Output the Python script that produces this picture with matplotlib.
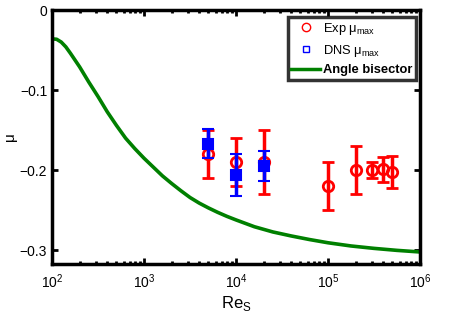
import matplotlib
matplotlib.use("Agg")
import matplotlib.pyplot as plt
from matplotlib.lines import Line2D
import numpy as np

plt.rcParams['font.family'] = ['Liberation Sans', 'DejaVu Sans']

# ── Data ──────────────────────────────────────────────────────────────────────
exp_re = [5e3, 1e4, 2e4, 1e5, 2e5, 3e5, 4e5, 5e5]
exp_mu = [-0.18, -0.19, -0.19, -0.22, -0.20, -0.20, -0.199, -0.202]
exp_err = [0.03, 0.03, 0.04, 0.03, 0.03, 0.01, 0.016, 0.02]

dns_re = [5e3, 1e4, 2e4]
dns_mu = [-0.167, -0.206, -0.195]
dns_err = [0.018, 0.026, 0.019]

bis_logre = [2.0, 2.05, 2.10, 2.15, 2.20, 2.30, 2.40, 2.50, 2.60, 2.70, 2.80,
             2.90, 3.00, 3.10, 3.20, 3.30, 3.40, 3.50, 3.60, 3.70, 3.80, 3.90,
             4.00, 4.20, 4.40, 4.60, 4.80, 5.00, 5.25, 5.50, 5.75, 6.00]
bis_mu = [-0.036, -0.0365, -0.040, -0.046, -0.054, -0.071, -0.090, -0.108,
          -0.127, -0.144, -0.160, -0.173, -0.185, -0.196, -0.207, -0.2165,
          -0.2255, -0.234, -0.241, -0.247, -0.2525, -0.2575, -0.262, -0.2705,
          -0.277, -0.282, -0.2865, -0.2905, -0.2945, -0.2975, -0.300, -0.302]

# ── Figure ────────────────────────────────────────────────────────────────────
fig = plt.figure(figsize=(4.5, 3.25), dpi=100)
ax = fig.add_axes([0.1156, 0.1877, 0.8178, 0.7815])

ax.plot(10 ** np.array(bis_logre), bis_mu, color="#008000", lw=2.6, zorder=2)

ax.errorbar(exp_re, exp_mu, yerr=exp_err, fmt="o", color="red", ms=7.5,
            mfc="none", mew=2, elinewidth=2.5, capsize=4, capthick=2.5, zorder=3)
ax.errorbar(dns_re, dns_mu, yerr=dns_err, fmt="s", color="blue", ms=7,
            mfc="blue", mew=1.5, elinewidth=2.5, capsize=4, capthick=2.5, zorder=4)

ax.set_xscale("log")
ax.set_xlim(1e2, 1e6)
ax.set_ylim(-0.317, 0)
ax.set_yticks([0, -0.1, -0.2, -0.3])
ax.set_yticklabels(["0", "\u22120.1", "\u22120.2", "\u22120.3"])

ax.tick_params(which="both", direction="in", top=True, right=True,
               labelsize=10, width=2)
ax.tick_params(which="major", length=4)
ax.tick_params(which="minor", length=2.5)
ax.tick_params(axis="x", pad=6)
for s in ax.spines.values():
    s.set_linewidth(2.5)

ax.set_xlabel("Re$_\\mathregular{S}$", fontsize=12, labelpad=2)
ax.set_ylabel("\u03bc", fontsize=11, labelpad=2)

# ── Legend ────────────────────────────────────────────────────────────────────
handles = [
    Line2D([], [], ls="none", marker="o", ms=6, mfc="none", mec="red", mew=1),
    Line2D([], [], ls="none", marker="s", ms=5, mfc="none", mec="blue", mew=1),
    Line2D([], [], color="#008000", lw=2.5),
]
labels = ["Exp \u03bc$_\\mathregular{max}$", "DNS \u03bc$_\\mathregular{max}$",
          "Angle bisector"]
leg = ax.legend(handles, labels, loc="upper right", bbox_to_anchor=(0.99, 0.973),
                fontsize=9.3, frameon=True, fancybox=False, edgecolor="black",
                borderpad=0.3, handlelength=2.2, handletextpad=0.25,
                labelspacing=0.45, borderaxespad=0)
leg.get_frame().set_linewidth(2.5)
leg.get_texts()[2].set_fontweight("bold")

fig.savefig("out.png", dpi=100, facecolor="white")
